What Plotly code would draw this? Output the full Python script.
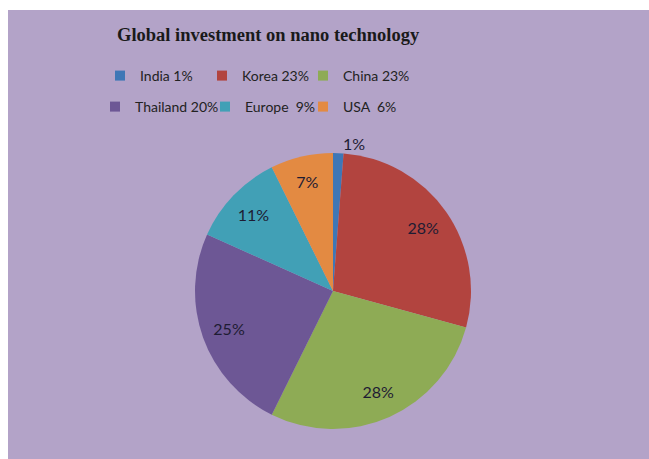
import plotly.graph_objects as go

countries = ["India", "Korea", "China", "Thailand", "Europe", "USA"]
legend_pct = [1, 23, 23, 20, 9, 6]
legend_labels = ["India 1%", "Korea 23%", "China 23%", "Thailand 20%", "Europe  9%", "USA  6%"]
slice_labels = ["1%", "28%", "28%", "25%", "11%", "7%"]
colors = ["#3f77b6", "#b2443f", "#8eab55", "#6d5795", "#41a0b6", "#e38a42"]
title_text = "Global investment on nano technology"

W, H = 649, 459
ML, MR, MT, MB = 130, 109, 10, 0
PW, PH = W - ML - MR, H - MT - MB

def px(x):
    return (x - ML) / PW

def py(y):
    return (H - MB - y) / PH

fig = go.Figure()

cx, cy, r = 333, 291, 138
dom = dict(x=[px(cx - r), px(cx + r)], y=[py(cy + r), py(cy - r)])

# coloured slices
fig.add_trace(go.Pie(
    labels=countries, values=legend_pct,
    textinfo="none", sort=False, direction="clockwise", rotation=0,
    marker=dict(colors=colors, line=dict(width=0)),
    domain=dom, showlegend=False, hoverinfo="label+percent",
))
# percentage labels (ring layer so labels sit toward the rim)
fig.add_trace(go.Pie(
    labels=countries, values=legend_pct, hole=0.6,
    text=slice_labels, textinfo="text",
    textposition=["outside", "inside", "inside", "inside", "inside", "inside"],
    insidetextorientation="horizontal",
    sort=False, direction="clockwise", rotation=0,
    marker=dict(colors=["rgba(0,0,0,0)"] * len(countries), line=dict(width=0)),
    textfont=dict(family="Lato", size=16, color="#1e1c33"),
    domain=dom, showlegend=False, hoverinfo="skip",
))

item_x = [100, 202, 303, 95, 205, 303]
row_y = [76, 76, 76, 107, 107, 107]
legends = {}
for i, lab in enumerate(legend_labels):
    key = "legend" if i == 0 else f"legend{i + 1}"
    fig.add_trace(go.Scatter(
        x=[None], y=[None], mode="markers",
        marker=dict(symbol="square", size=10, color=colors[i]),
        name=lab, showlegend=True, legend=key,
    ))
    legends[key] = dict(
        orientation="h", xanchor="left", yanchor="middle",
        x=px(item_x[i]), y=py(row_y[i]),
        bgcolor="rgba(0,0,0,0)", borderwidth=0,
        font=dict(family="Lato", size=14, color="#222222"),
    )

fig.update_layout(
    width=W, height=H,
    margin=dict(l=ML, r=MR, t=MT, b=MB),
    paper_bgcolor="white",
    plot_bgcolor="rgba(0,0,0,0)",
    xaxis=dict(visible=False),
    yaxis=dict(visible=False),
    shapes=[dict(type="rect", xref="paper", yref="paper",
                 x0=px(8), x1=px(W), y0=py(H), y1=py(10),
                 fillcolor="#b3a3c8", line=dict(width=0), layer="below")],
    annotations=[dict(text="<b>" + title_text + "</b>", xref="paper", yref="paper",
                      x=px(268), y=py(35), xanchor="center", yanchor="middle",
                      showarrow=False,
                      font=dict(family="Liberation Serif", size=18.5, color="#1a1a1a"))],
    **legends,
)

fig.write_html("out.html")
